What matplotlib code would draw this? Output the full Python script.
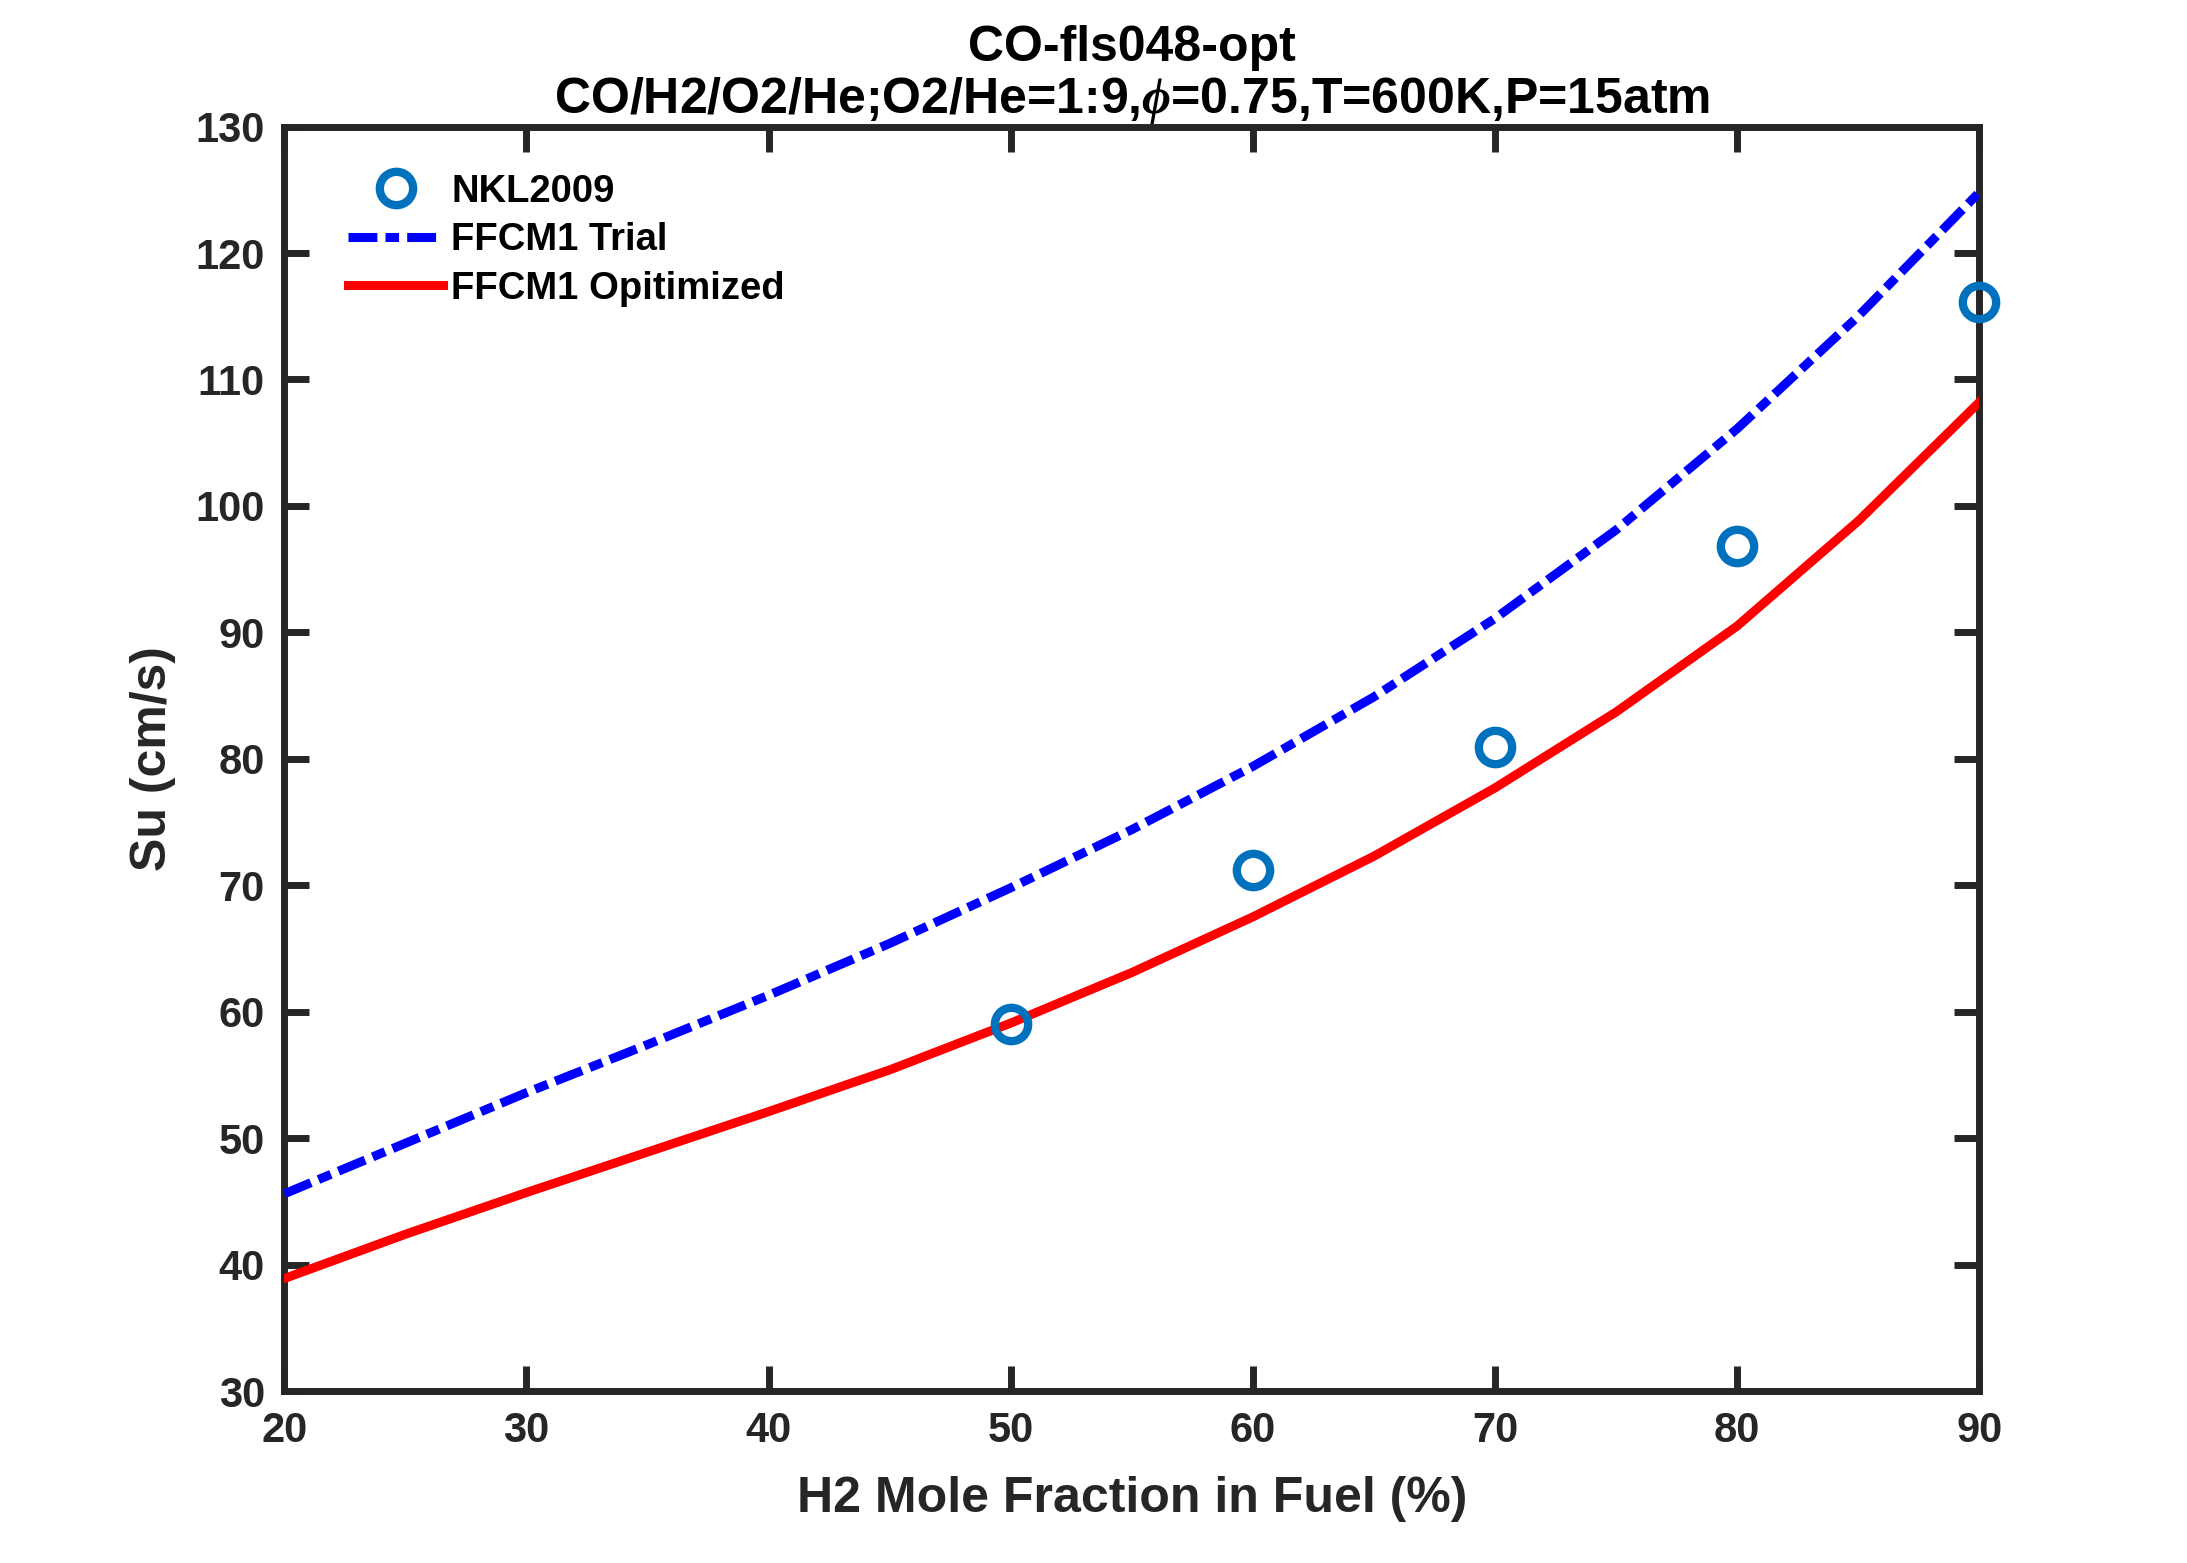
import numpy as np
import matplotlib
matplotlib.use("Agg")
from matplotlib import pyplot as plt

# H2 mole fraction in fuel (%) for the model curves
x_model = [20, 25, 30, 35, 40, 45, 50, 55, 60, 65, 70, 75, 80, 85, 90]
su_trial = [45.6, 49.6, 53.6, 57.4, 61.3, 65.4, 69.8, 74.4, 79.4, 84.9, 91.1, 98.1, 106.1, 115.0, 124.8]
su_opt = [38.9, 42.4, 45.7, 48.9, 52.1, 55.4, 59.1, 63.1, 67.5, 72.3, 77.7, 83.7, 90.5, 98.8, 108.2]

# NKL2009 experiment
x_exp = [50, 60, 70, 80, 90]
su_exp = [59.0, 71.2, 80.9, 96.8, 116.1]

xticks = [20, 30, 40, 50, 60, 70, 80, 90]
yticks = [30, 40, 50, 60, 70, 80, 90, 100, 110, 120, 130]

plt.rcParams['font.family'] = ['Liberation Sans', 'DejaVu Sans']
plt.rcParams['font.weight'] = 'bold'
plt.rcParams['mathtext.fontset'] = 'custom'
plt.rcParams['mathtext.it'] = 'Liberation Serif:italic'

dark = '#262626'

fig = plt.figure(figsize=(21.87, 15.63), dpi=100)
ax = fig.add_axes([0.13, 0.11, 0.775, 0.809])

ax.plot(x_exp, su_exp, 'o', ls='none', mfc='none', mec='#0072BD', ms=24, mew=6, label='NKL2009',
        zorder=4, clip_on=False)
ax.plot(x_model, su_trial, color='#0000FF', lw=6.5, dashes=[3.2, 0.9, 1.5, 0.9], dash_capstyle='butt',
        label='FFCM1 Trial', zorder=3)
ax.plot(x_model, su_opt, color='#FF0000', lw=6.5, label='FFCM1 Opitimized', zorder=3)

ax.set_xlim(20, 90)
ax.set_ylim(30, 130)
ax.set_xticks(xticks)
ax.set_yticks(yticks)
ax.tick_params(direction='in', length=18, width=5, colors=dark, labelsize=30, top=True, right=True, pad=14)
for lab in ax.get_xticklabels() + ax.get_yticklabels():
    lab.set_fontweight('bold')
    lab.set_color(dark)
for s in ax.spines.values():
    s.set_linewidth(5)
    s.set_color(dark)

ax.set_xlabel('H2 Mole Fraction in Fuel (%)', fontsize=36, fontweight='bold', color=dark, labelpad=18)
ax.set_ylabel('Su (cm/s)', fontsize=36, fontweight='bold', color=dark, labelpad=14)
ax.set_title('CO-fls048-opt\nCO/H2/O2/He;O2/He=1:9,$\\phi$=0.75,T=600K,P=15atm',
             fontsize=36, fontweight='bold', color='black', pad=10, linespacing=1.1)

leg = ax.legend(loc='upper left', frameon=False, fontsize=27.5, handlelength=2.5,
                borderaxespad=0.6, labelspacing=0.33, handletextpad=0.2, bbox_to_anchor=(0.015, 0.993))
for t in leg.get_texts():
    t.set_fontweight('bold')

fig.savefig('out.png', dpi=100, facecolor='white')
